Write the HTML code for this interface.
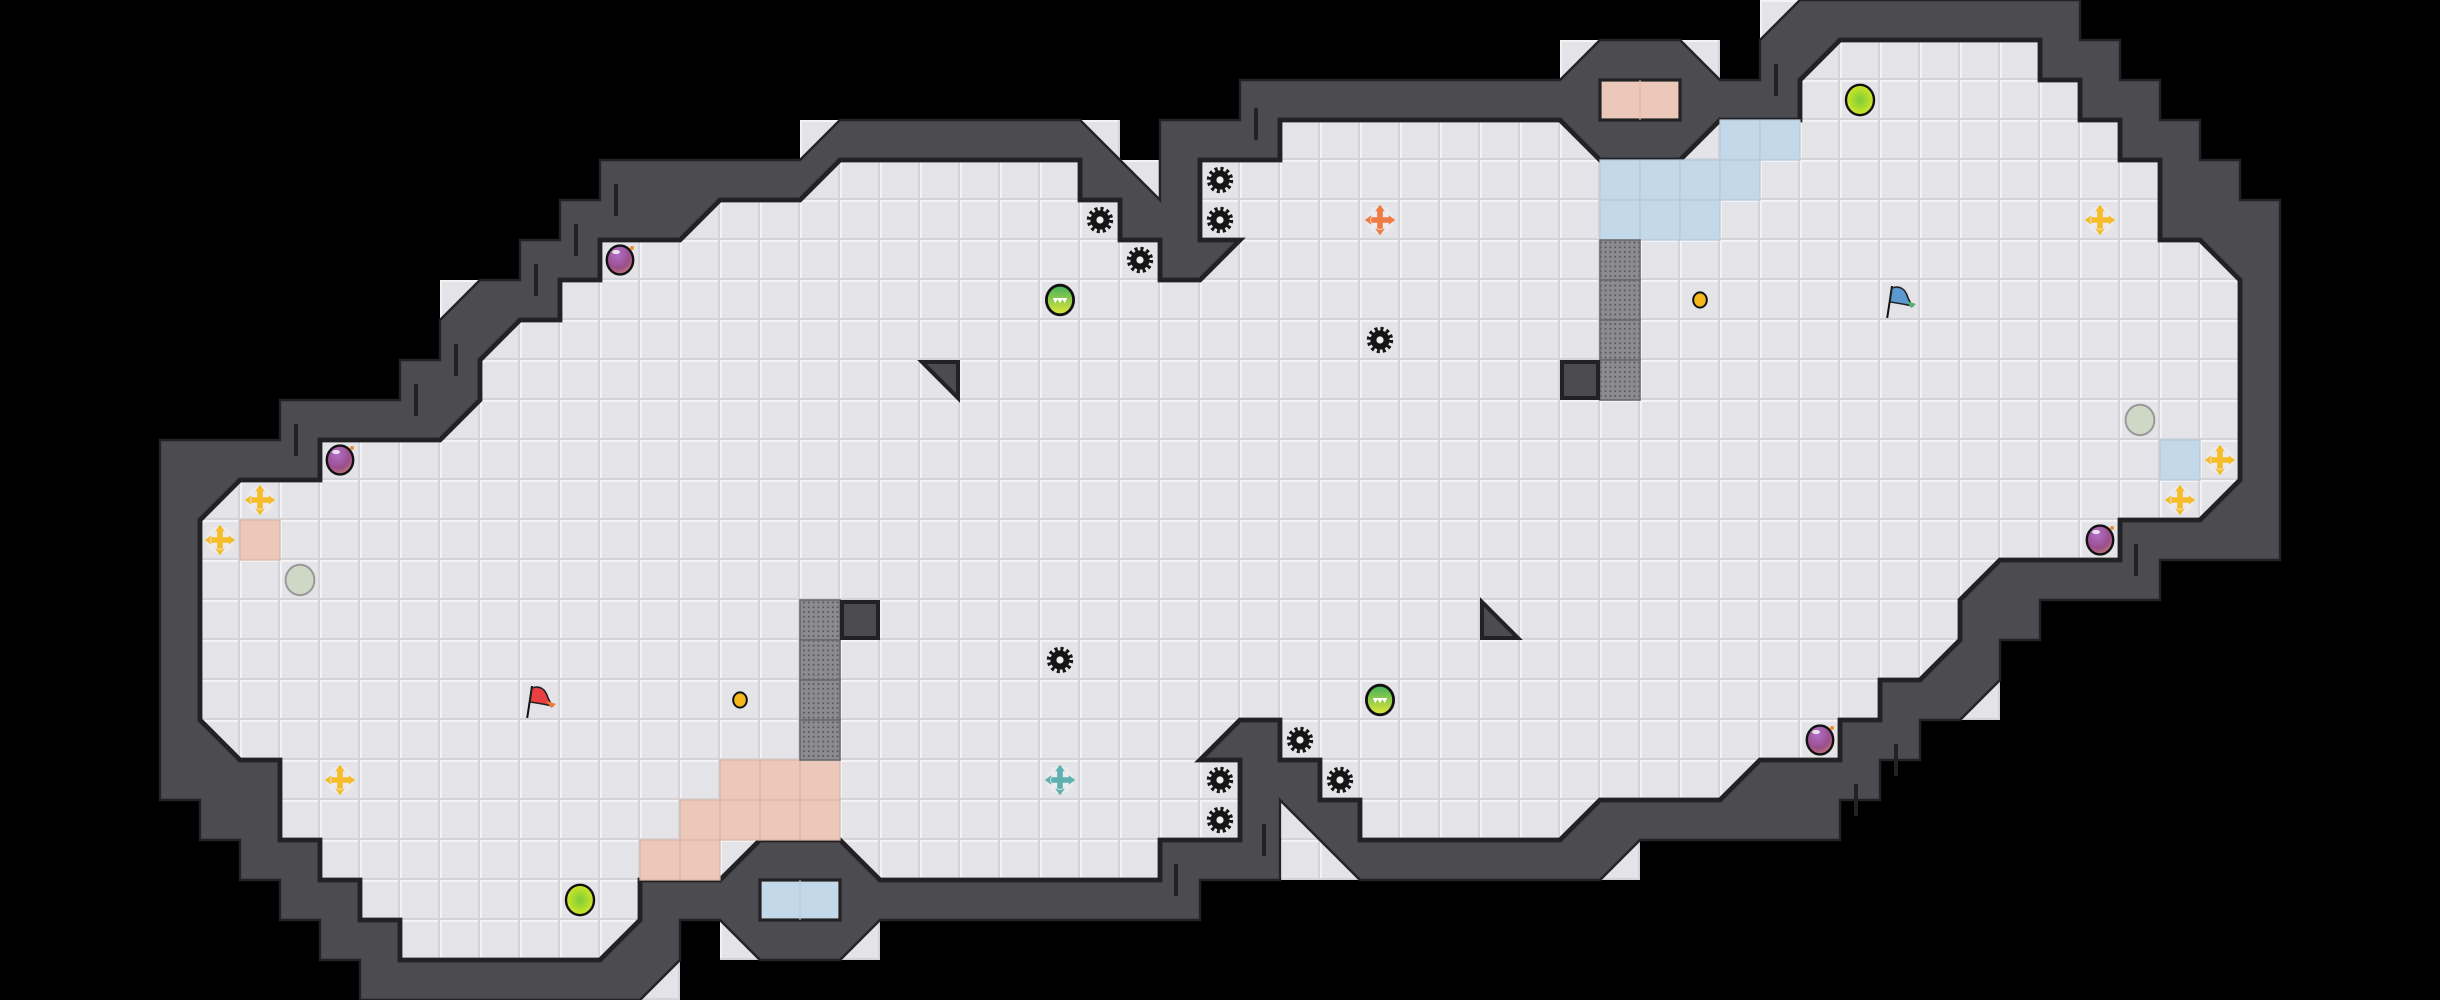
<!DOCTYPE html>
<html><head><meta charset="utf-8"><style>
html,body{margin:0;padding:0;background:#000;}
svg{display:block;}
</style></head><body>
<svg width="2440" height="1000" viewBox="0 0 61 25" xmlns="http://www.w3.org/2000/svg">
<defs>
<pattern id="fl" x="0" y="0" width="1" height="1" patternUnits="userSpaceOnUse">
<rect width="1" height="1" fill="#e4e4e8"/>
<rect x="0" y="0" width="1" height="0.05" fill="#f3f3f5"/>
<rect x="0" y="0" width="0.05" height="1" fill="#f3f3f5"/>
<rect x="0" y="0.95" width="1" height="0.05" fill="#d3d3d8"/>
<rect x="0.95" y="0" width="0.05" height="1" fill="#d3d3d8"/>
</pattern>
<pattern id="gr" x="0" y="0" width="0.12" height="0.12" patternUnits="userSpaceOnUse">
<rect width="0.12" height="0.12" fill="#8c8c90"/>
<circle cx="0.06" cy="0.06" r="0.025" fill="#55555a"/>
</pattern>
<radialGradient id="pb" cx="0.4" cy="0.3" r="0.8"><stop offset="0" stop-color="#b070c8"/><stop offset="0.6" stop-color="#9a4e8c"/><stop offset="1" stop-color="#d0806a"/></radialGradient>
<radialGradient id="yg" cx="0.5" cy="0.5" r="0.6"><stop offset="0" stop-color="#7ccc3a"/><stop offset="1" stop-color="#e4ec20"/></radialGradient>
<linearGradient id="gg" x1="0" y1="0" x2="0" y2="1"><stop offset="0" stop-color="#3fb05a"/><stop offset="1" stop-color="#e3e838"/></linearGradient>
<g id="gear"><circle r="0.24" fill="#151515"/><circle r="0.28" fill="none" stroke="#151515" stroke-width="0.1" stroke-dasharray="0.075 0.072"/><circle r="0.09" fill="#eee"/></g>
<g id="bomb"><ellipse rx="0.33" ry="0.36" fill="url(#pb)" stroke="#111" stroke-width="0.06"/><ellipse cx="-0.1" cy="-0.2" rx="0.1" ry="0.05" fill="#fff" opacity="0.8"/><circle cx="0.3" cy="-0.3" r="0.05" fill="#f0902a"/></g>
<g id="xc"><circle r="0.34" fill="#ececee"/><path d="M-0.07,-0.24 L-0.07,-0.07 L-0.24,-0.07 L-0.24,0.07 L-0.07,0.07 L-0.07,0.24 L0.07,0.24 L0.07,0.07 L0.24,0.07 L0.24,-0.07 L0.07,-0.07 L0.07,-0.24Z M0,-0.38 L-0.12,-0.22 L0.12,-0.22Z M0,0.38 L-0.12,0.22 L0.12,0.22Z M-0.38,0 L-0.22,-0.12 L-0.22,0.12Z M0.38,0 L0.22,-0.12 L0.22,0.12Z"/></g>
<g id="coin"><ellipse rx="0.17" ry="0.19" fill="#f4b81c" stroke="#111" stroke-width="0.05"/></g>
<g id="gc"><ellipse rx="0.36" ry="0.38" fill="#cfd8c4" stroke="#999" stroke-width="0.05"/></g>
<g id="yc"><ellipse rx="0.35" ry="0.38" fill="url(#yg)" stroke="#111" stroke-width="0.06"/></g>
<g id="wc"><ellipse rx="0.34" ry="0.37" fill="url(#gg)" stroke="#111" stroke-width="0.07"/><path d="M-0.18,-0.05 L0.18,-0.05 L0.12,0.08 L0.06,-0.02 L0,0.08 L-0.06,-0.02 L-0.12,0.08Z" fill="#fff"/></g>
</defs>
<rect width="61" height="25" fill="#000"/>
<g fill="url(#fl)">
<rect x="11" y="7" width="1" height="1"/><rect x="20" y="3" width="1" height="1"/><rect x="27" y="3" width="1" height="1"/><rect x="28" y="4" width="1" height="1"/>
<rect x="39" y="1" width="1" height="1"/><rect x="42" y="1" width="1" height="1"/><rect x="44" y="0" width="1" height="1"/><rect x="49" y="17" width="1" height="1"/>
<rect x="40" y="21" width="1" height="1"/><rect x="33" y="21" width="1" height="1"/><rect x="32" y="20" width="1" height="2"/><rect x="21" y="23" width="1" height="1"/>
<rect x="18" y="23" width="1" height="1"/><rect x="16" y="24" width="1" height="1"/>
</g>
<polygon fill="#4b4b50" stroke="#232326" stroke-width="0.06" stroke-linejoin="miter" points="4,11 7,11 7,10 10,10 10,9 11,9 11,8 12,7 13,7 13,6 14,6 14,5 15,5 15,4 20,4 21,3 27,3 29,5 29,3 31,3 31,2 39,2 40,1 42,1 43,2 44,2 44,1 45,0 52,0 52,1 53,1 53,2 54,2 54,3 55,3 55,4 56,4 56,5 57,5 57,14 54,14 54,15 51,15 51,16 50,16 50,17 49,18 48,18 48,19 47,19 47,20 46,20 46,21 41,21 40,22 34,22 32,20 32,22 30,22 30,23 22,23 21,24 19,24 18,23 17,23 17,24 16,25 9,25 9,24 8,24 8,23 7,23 7,22 6,22 6,21 5,21 5,20 4,20"/>
<polygon fill="url(#fl)" stroke="#222225" stroke-width="0.12" stroke-linejoin="miter" points="5,13 6,12 8,12 8,11 11,11 12,10 12,9 13,8 14,8 14,7 15,7 15,6 17,6 18,5 20,5 21,4 27,4 27,5 28,5 28,6 29,6 29,7 30,7 31,6 30,6 30,4 32,4 32,3 39,3 40,4 42,4 43,3 45,3 45,2 46,1 51,1 51,2 52,2 52,3 53,3 53,4 54,4 54,6 55,6 56,7 56,12 55,13 53,13 53,14 50,14 49,15 49,16 48,17 47,17 47,18 46,18 46,19 44,19 43,20 40,20 39,21 34,21 34,20 33,20 33,19 32,19 32,18 31,18 30,19 31,19 31,21 29,21 29,22 22,22 21,21 19,21 18,22 16,22 16,23 15,24 10,24 10,23 9,23 9,22 8,22 8,21 7,21 7,19 6,19 5,18"/>
<g fill="#ebc8b9" stroke="#dcb6a6" stroke-width="0.03">
<rect x="6" y="13" width="1" height="1"/>
<rect x="18" y="19" width="1" height="1"/><rect x="19" y="19" width="1" height="1"/><rect x="20" y="19" width="1" height="1"/>
<rect x="17" y="20" width="1" height="1"/><rect x="18" y="20" width="1" height="1"/><rect x="19" y="20" width="1" height="1"/><rect x="20" y="20" width="1" height="1"/>
<rect x="16" y="21" width="1" height="1"/><rect x="17" y="21" width="1" height="1"/>
</g>
<g fill="#ebc8b9" stroke="#232326" stroke-width="0.08"><rect x="40" y="2" width="2" height="1"/></g>
<line x1="41" y1="2" x2="41" y2="3" stroke="#dcb6a6" stroke-width="0.03"/>
<g fill="#c3d8e8" stroke="#232326" stroke-width="0.08"><rect x="19" y="22" width="2" height="1"/></g>
<line x1="20" y1="22" x2="20" y2="23" stroke="#b4c9da" stroke-width="0.03"/>
<g fill="#c3d8e8" stroke="#b4c9da" stroke-width="0.03">
<rect x="43" y="3" width="1" height="1"/><rect x="44" y="3" width="1" height="1"/>
<rect x="40" y="4" width="1" height="1"/><rect x="41" y="4" width="1" height="1"/><rect x="42" y="4" width="1" height="1"/><rect x="43" y="4" width="1" height="1"/>
<rect x="40" y="5" width="1" height="1"/><rect x="41" y="5" width="1" height="1"/><rect x="42" y="5" width="1" height="1"/>
<rect x="54" y="11" width="1" height="1"/>
</g>
<g fill="url(#gr)" stroke="#6a6a6e" stroke-width="0.04">
<rect x="40" y="6" width="1" height="1"/><rect x="40" y="7" width="1" height="1"/><rect x="40" y="8" width="1" height="1"/><rect x="40" y="9" width="1" height="1"/>
<rect x="20" y="15" width="1" height="1"/><rect x="20" y="16" width="1" height="1"/><rect x="20" y="17" width="1" height="1"/><rect x="20" y="18" width="1" height="1"/>
</g>
<g fill="#4b4b50" stroke="#222225" stroke-width="0.1">
<rect x="39.05" y="9.05" width="0.9" height="0.9"/><rect x="21.05" y="15.05" width="0.9" height="0.9"/>
<polygon points="23.05,9.05 23.95,9.05 23.95,9.95"/>
<polygon points="37.05,15.05 37.05,15.95 37.95,15.95"/>
</g>
<g stroke="#222225" stroke-width="0.1">
<line x1="15.4" y1="4.6" x2="15.4" y2="5.4"/><line x1="14.4" y1="5.6" x2="14.4" y2="6.4"/><line x1="13.4" y1="6.6" x2="13.4" y2="7.4"/>
<line x1="11.4" y1="8.6" x2="11.4" y2="9.4"/><line x1="10.4" y1="9.6" x2="10.4" y2="10.4"/><line x1="7.4" y1="10.6" x2="7.4" y2="11.4"/>
<line x1="31.4" y1="2.7" x2="31.4" y2="3.5"/><line x1="44.4" y1="1.6" x2="44.4" y2="2.4"/>
<line x1="53.4" y1="13.6" x2="53.4" y2="14.4"/><line x1="47.4" y1="18.6" x2="47.4" y2="19.4"/><line x1="46.4" y1="19.6" x2="46.4" y2="20.4"/>
<line x1="31.6" y1="20.6" x2="31.6" y2="21.4"/><line x1="29.4" y1="21.6" x2="29.4" y2="22.4"/>
</g>
<use href="#gear" x="30.5" y="4.5"/><use href="#gear" x="30.5" y="5.5"/><use href="#gear" x="27.5" y="5.5"/><use href="#gear" x="28.5" y="6.5"/>
<use href="#gear" x="34.5" y="8.5"/><use href="#gear" x="26.5" y="16.5"/><use href="#gear" x="32.5" y="18.5"/><use href="#gear" x="30.5" y="19.5"/>
<use href="#gear" x="33.5" y="19.5"/><use href="#gear" x="30.5" y="20.5"/>
<use href="#bomb" x="15.5" y="6.5"/><use href="#bomb" x="8.5" y="11.5"/><use href="#bomb" x="52.5" y="13.5"/><use href="#bomb" x="45.5" y="18.5"/>
<g fill="#f6bd2a"><use href="#xc" x="6.5" y="12.5"/><use href="#xc" x="5.5" y="13.5"/><use href="#xc" x="8.5" y="19.5"/><use href="#xc" x="52.5" y="5.5"/><use href="#xc" x="55.5" y="11.5"/><use href="#xc" x="54.5" y="12.5"/></g>
<g fill="#f07a45"><use href="#xc" x="34.5" y="5.5"/></g>
<g fill="#5fb0b0"><use href="#xc" x="26.5" y="19.5"/></g>
<use href="#gc" x="7.5" y="14.5"/><use href="#gc" x="53.5" y="10.5"/>
<use href="#yc" x="46.5" y="2.5"/><use href="#yc" x="14.5" y="22.5"/>
<use href="#wc" x="26.5" y="7.5"/><use href="#wc" x="34.5" y="17.5"/>
<use href="#coin" x="42.5" y="7.5"/><use href="#coin" x="18.5" y="17.5"/>
<g transform="translate(13.5,17.5)"><line x1="-0.32" y1="0.45" x2="-0.2" y2="-0.35" stroke="#111" stroke-width="0.05"/><path d="M-0.2,-0.3 Q0.1,-0.4 0.2,-0.05 L0.3,0.15 Q0.1,0.1 -0.25,0.05Z" fill="#e84040" stroke="#222" stroke-width="0.04"/><path d="M0.15,0.02 L0.4,0.1 L0.28,0.2Z" fill="#f07a35"/></g>
<g transform="translate(47.5,7.5)"><line x1="-0.32" y1="0.45" x2="-0.2" y2="-0.35" stroke="#111" stroke-width="0.05"/><path d="M-0.2,-0.3 Q0.1,-0.4 0.2,-0.05 L0.3,0.15 Q0.1,0.1 -0.25,0.05Z" fill="#5a9ad0" stroke="#222" stroke-width="0.04"/><path d="M0.15,0.02 L0.4,0.1 L0.28,0.2Z" fill="#4fb070"/></g>
</svg>
</body></html>
